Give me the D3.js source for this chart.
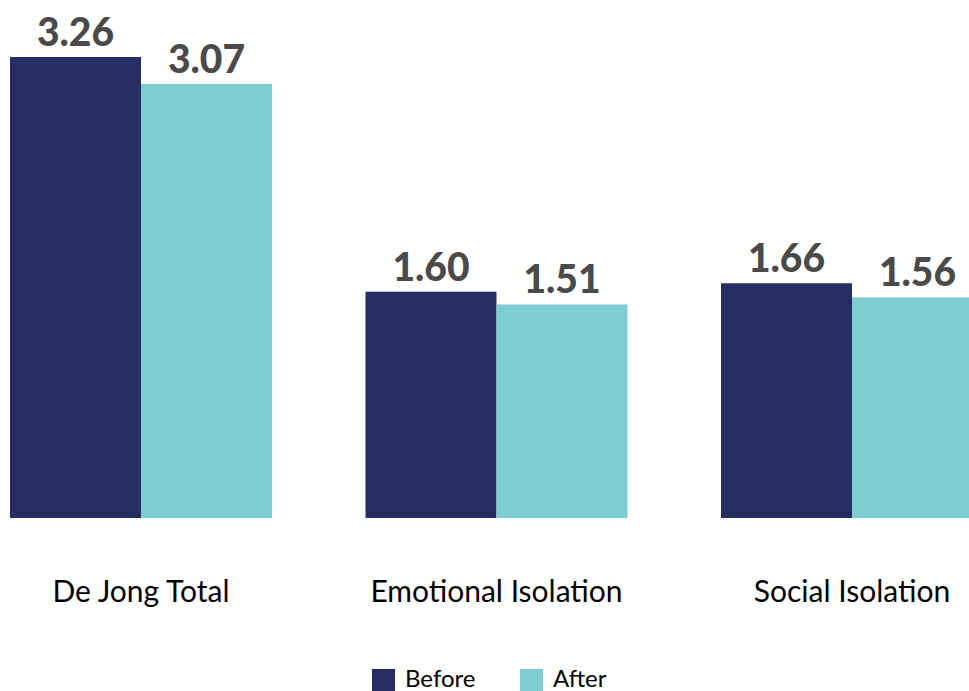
<!DOCTYPE html>
<html>
<head>
<meta charset="utf-8">
<script src="https://cdn.jsdelivr.net/npm/d3@7"></script>
<style>
  html, body { margin: 0; padding: 0; background: #fff; }
  svg { display: block; }
</style>
</head>
<body>
<svg id="chart" width="969" height="691"></svg>
<script>
// De Jong loneliness scores, before vs after
const categories = ["De Jong Total", "Emotional Isolation", "Social Isolation"];
const seriesNames = ["Before", "After"];
const beforeValues = [3.26, 1.60, 1.66];
const afterValues = [3.07, 1.51, 1.56];
const seriesColors = ["#252d62", "#7ecdd3"];

const svg = d3.select("#chart");
const baseline = 518;
const textFont = "Lato, 'Noto Sans', sans-serif";

const rows = categories.map((c, i) => ({
  category: c,
  values: [beforeValues[i], afterValues[i]]
}));

// Group positions
const x0 = d3.scaleBand()
  .domain(categories)
  .range([-36.75, 1029.75])
  .paddingInner(0.263)
  .paddingOuter(0.1315);

const x1 = d3.scaleBand()
  .domain(seriesNames)
  .range([0, x0.bandwidth()])
  .padding(0);

const y = d3.scaleLinear()
  .domain([0, 3.26])
  .range([baseline, 57]);

const groups = svg.selectAll("g.group")
  .data(rows)
  .join("g")
  .attr("class", "group")
  .attr("transform", d => `translate(${x0(d.category)},0)`);

const bars = groups.selectAll("g.bar")
  .data(d => d.values.map((v, j) => ({ series: seriesNames[j], value: v, j })))
  .join("g")
  .attr("class", "bar");

bars.append("rect")
  .attr("x", d => x1(d.series))
  .attr("y", d => y(d.value))
  .attr("width", x1.bandwidth())
  .attr("height", d => baseline - y(d.value))
  .attr("fill", d => seriesColors[d.j]);

bars.append("text")
  .attr("x", d => x1(d.series) + x1.bandwidth() / 2)
  .attr("y", d => y(d.value) - 11)
  .attr("text-anchor", "middle")
  .attr("font-family", textFont)
  .attr("font-weight", 900)
  .attr("font-size", 39)
  .attr("fill", "#4a4a4a")
  .text(d => d.value.toFixed(2));

// Category labels
const xAxis = d3.axisBottom(x0).tickSize(0).tickPadding(0);
const axisG = svg.append("g")
  .attr("transform", `translate(0,${baseline})`)
  .call(xAxis);
axisG.select(".domain").remove();
axisG.selectAll(".tick text")
  .attr("y", 84)
  .attr("dy", 0)
  .attr("font-family", textFont)
  .attr("font-size", 30)
  .attr("fill", "#000");

// Legend
const legend = svg.append("g").attr("class", "legend");
const legendItems = legend.selectAll("g")
  .data(seriesNames)
  .join("g")
  .attr("transform", (d, i) => `translate(${372 + i * 148},669)`);
legendItems.append("rect")
  .attr("width", 23)
  .attr("height", 22)
  .attr("fill", (d, i) => seriesColors[i]);
legendItems.append("text")
  .attr("x", 33)
  .attr("y", 18)
  .attr("font-family", textFont)
  .attr("font-size", 24)
  .attr("fill", "#000")
  .text(d => d);
</script>
</body>
</html>
